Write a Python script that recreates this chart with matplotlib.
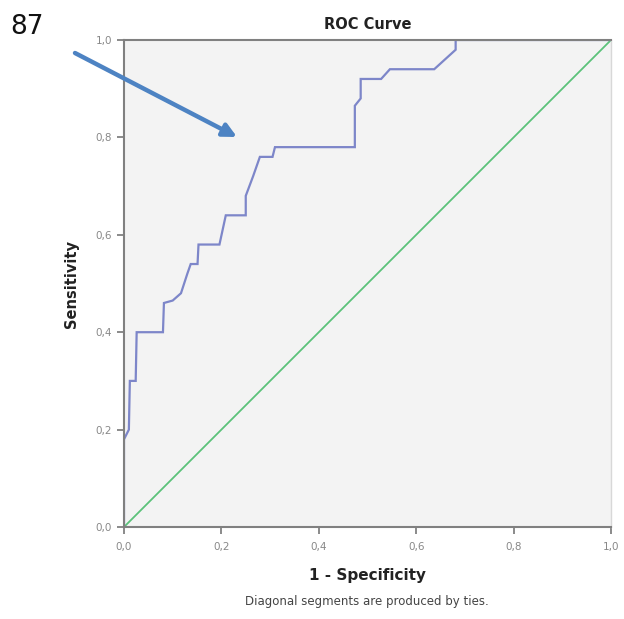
import matplotlib
matplotlib.use("Agg")
import matplotlib.pyplot as plt

# ROC curve points (1 - specificity, sensitivity)
fpr = [0.0, 0.0, 0.01, 0.012, 0.024, 0.026, 0.08, 0.082, 0.10, 0.117, 0.13, 0.137,
       0.151, 0.153, 0.196, 0.209, 0.25, 0.25, 0.265, 0.279, 0.305, 0.31, 0.474,
       0.474, 0.486, 0.486, 0.528, 0.546, 0.637, 0.681, 0.681, 1.0]
tpr = [0.0, 0.18, 0.20, 0.30, 0.30, 0.40, 0.40, 0.46, 0.465, 0.48, 0.52, 0.54,
       0.54, 0.58, 0.58, 0.64, 0.64, 0.68, 0.72, 0.76, 0.76, 0.78, 0.78,
       0.865, 0.88, 0.92, 0.92, 0.94, 0.94, 0.98, 1.0, 1.0]
ref_line = [0.0, 1.0]
ticks = [0.0, 0.2, 0.4, 0.6, 0.8, 1.0]
tick_labels = ["0,0", "0,2", "0,4", "0,6", "0,8", "1,0"]

W, H = 624, 619
fig = plt.figure(figsize=(W / 100, H / 100), dpi=100)
fig.patch.set_facecolor("white")
ax = fig.add_axes([124 / W, 1 - 527 / H, (611 - 124) / W, (527 - 40) / H])
ax.set_facecolor("#f3f3f3")

ax.plot(ref_line, ref_line, color="#5cc27a", lw=1.3, zorder=2)
ax.plot(fpr, tpr, color="#7d86c9", lw=1.6, zorder=2.2, solid_joinstyle="miter")

ax.set_xlim(0, 1)
ax.set_ylim(0, 1)
ax.set_xticks(ticks)
ax.set_xticklabels(tick_labels)
ax.set_yticks(ticks)
ax.set_yticklabels(tick_labels)
ax.tick_params(direction="out", length=5, width=1.2, colors="#777777",
               labelsize=7.5, labelcolor="#888888")
ax.tick_params(axis="x", pad=6)
for s in ["left", "bottom", "top"]:
    ax.spines[s].set_color("#808080")
    ax.spines[s].set_linewidth(1.5)
    ax.spines[s].set_zorder(3)
ax.spines["right"].set_color("#d8d8d8")
ax.spines["right"].set_linewidth(1.0)

ax.set_xlabel("1 - Specificity", fontsize=11, fontweight="bold", color="#222222", labelpad=11)
ax.set_ylabel("Sensitivity", fontsize=10.5, fontweight="bold", color="#222222", labelpad=12)
ax.set_title("ROC Curve", fontsize=10.5, fontweight="bold", color="#222222", pad=8)

fig.text(367 / W, 1 - 602 / H, "Diagonal segments are produced by ties.",
         ha="center", va="center", fontsize=8.5, color="#444444")
fig.text(10 / W, 1 - 27 / H, "87", ha="left", va="center", fontsize=19, color="#111111")

ax.annotate("", xy=(237 / W, 1 - 137 / H), xytext=(75 / W, 1 - 53 / H),
            xycoords="figure fraction", textcoords="figure fraction",
            arrowprops=dict(arrowstyle="-|>,head_length=0.8,head_width=0.4",
                            color="#4d83c3", lw=3.2, shrinkA=0, shrinkB=0),
            annotation_clip=False, zorder=5)

fig.savefig("out.png", dpi=100, facecolor="white")
